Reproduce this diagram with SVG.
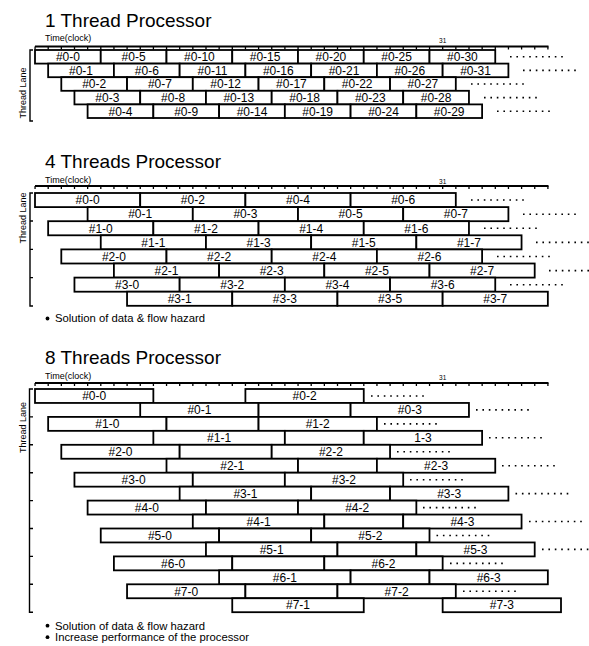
<svg xmlns="http://www.w3.org/2000/svg" width="589" height="646" viewBox="0 0 589 646">
<style>
.b{fill:#fff;stroke:#000;stroke-width:1.8}
.l{font-family:"Liberation Sans",Arial,sans-serif;font-size:12px;text-anchor:middle;fill:#000}
.t{font-family:"Liberation Sans",Arial,sans-serif;font-size:19px;fill:#000}
.s{font-family:"Liberation Sans",Arial,sans-serif;font-size:9px;fill:#000}
.n{font-family:"Liberation Sans",Arial,sans-serif;font-size:6.5px;fill:#000;text-anchor:middle}
.bl{font-family:"Liberation Sans",Arial,sans-serif;font-size:11.3px;fill:#000}
.v{font-family:"Liberation Sans",Arial,sans-serif;font-size:9px;fill:#000;text-anchor:middle}
.d{stroke:#000;stroke-width:1.6;stroke-dasharray:1.6 4.8;fill:none}
.ax{stroke:#000;stroke-width:1.8;fill:none}
.tk{stroke:#000;stroke-width:3;stroke-dasharray:1.3 11.85;fill:none}
.br{stroke:#000;stroke-width:1.4;fill:none}
</style>
<rect width="589" height="646" fill="#fff"/>

<!-- ===== Section 1: 1 Thread Processor ===== -->
<g id="sec1-frame">
<text class="t" x="45" y="26.7">1 Thread Processor</text>
<text class="s" x="45" y="40.5">Time(clock)</text>
<text class="n" x="442.7" y="42.5">31</text>
<line class="ax" x1="35" y1="46.5" x2="548.5" y2="46.5"/>
<line class="tk" x1="34.4" y1="48" x2="549" y2="48"/>
<path class="br" d="M33 50H30V121H33"/>
<text class="v" transform="translate(25.5,93) rotate(-90)">Thread Lane</text>
</g>
<g id="sec1-nodes">
<g id="n1-0-0"><rect class="b" x="35" y="50" width="65.75" height="13.6"/><text class="l" x="67.9" y="61.2">#0-0</text></g>
<g id="n1-0-5"><rect class="b" x="100.75" y="50" width="65.75" height="13.6"/><text class="l" x="133.6" y="61.2">#0-5</text></g>
<g id="n1-0-10"><rect class="b" x="166.5" y="50" width="65.75" height="13.6"/><text class="l" x="199.4" y="61.2">#0-10</text></g>
<g id="n1-0-15"><rect class="b" x="232.25" y="50" width="65.75" height="13.6"/><text class="l" x="265.1" y="61.2">#0-15</text></g>
<g id="n1-0-20"><rect class="b" x="298" y="50" width="65.75" height="13.6"/><text class="l" x="330.9" y="61.2">#0-20</text></g>
<g id="n1-0-25"><rect class="b" x="363.75" y="50" width="65.75" height="13.6"/><text class="l" x="396.6" y="61.2">#0-25</text></g>
<g id="n1-0-30"><rect class="b" x="429.5" y="50" width="65.75" height="13.6"/><text class="l" x="462.4" y="61.2">#0-30</text></g>

<g id="n1-0-1"><rect class="b" x="48.15" y="63.6" width="65.75" height="13.6"/><text class="l" x="81" y="74.8">#0-1</text></g>
<g id="n1-0-6"><rect class="b" x="113.9" y="63.6" width="65.75" height="13.6"/><text class="l" x="146.8" y="74.8">#0-6</text></g>
<g id="n1-0-11"><rect class="b" x="179.65" y="63.6" width="65.75" height="13.6"/><text class="l" x="212.5" y="74.8">#0-11</text></g>
<g id="n1-0-16"><rect class="b" x="245.4" y="63.6" width="65.75" height="13.6"/><text class="l" x="278.3" y="74.8">#0-16</text></g>
<g id="n1-0-21"><rect class="b" x="311.15" y="63.6" width="65.75" height="13.6"/><text class="l" x="344" y="74.8">#0-21</text></g>
<g id="n1-0-26"><rect class="b" x="376.9" y="63.6" width="65.75" height="13.6"/><text class="l" x="409.8" y="74.8">#0-26</text></g>
<g id="n1-0-31"><rect class="b" x="442.65" y="63.6" width="65.75" height="13.6"/><text class="l" x="475.5" y="74.8">#0-31</text></g>

<g id="n1-0-2"><rect class="b" x="61.3" y="77.2" width="65.75" height="13.6"/><text class="l" x="94.2" y="88.4">#0-2</text></g>
<g id="n1-0-7"><rect class="b" x="127.05" y="77.2" width="65.75" height="13.6"/><text class="l" x="159.9" y="88.4">#0-7</text></g>
<g id="n1-0-12"><rect class="b" x="192.8" y="77.2" width="65.75" height="13.6"/><text class="l" x="225.7" y="88.4">#0-12</text></g>
<g id="n1-0-17"><rect class="b" x="258.55" y="77.2" width="65.75" height="13.6"/><text class="l" x="291.4" y="88.4">#0-17</text></g>
<g id="n1-0-22"><rect class="b" x="324.3" y="77.2" width="65.75" height="13.6"/><text class="l" x="357.2" y="88.4">#0-22</text></g>
<g id="n1-0-27"><rect class="b" x="390.05" y="77.2" width="65.75" height="13.6"/><text class="l" x="422.9" y="88.4">#0-27</text></g>

<g id="n1-0-3"><rect class="b" x="74.45" y="90.8" width="65.75" height="13.6"/><text class="l" x="107.3" y="102">#0-3</text></g>
<g id="n1-0-8"><rect class="b" x="140.2" y="90.8" width="65.75" height="13.6"/><text class="l" x="173.1" y="102">#0-8</text></g>
<g id="n1-0-13"><rect class="b" x="205.95" y="90.8" width="65.75" height="13.6"/><text class="l" x="238.8" y="102">#0-13</text></g>
<g id="n1-0-18"><rect class="b" x="271.7" y="90.8" width="65.75" height="13.6"/><text class="l" x="304.6" y="102">#0-18</text></g>
<g id="n1-0-23"><rect class="b" x="337.45" y="90.8" width="65.75" height="13.6"/><text class="l" x="370.3" y="102">#0-23</text></g>
<g id="n1-0-28"><rect class="b" x="403.2" y="90.8" width="65.75" height="13.6"/><text class="l" x="436.1" y="102">#0-28</text></g>

<g id="n1-0-4"><rect class="b" x="87.6" y="104.4" width="65.75" height="13.6"/><text class="l" x="120.5" y="115.6">#0-4</text></g>
<g id="n1-0-9"><rect class="b" x="153.35" y="104.4" width="65.75" height="13.6"/><text class="l" x="186.2" y="115.6">#0-9</text></g>
<g id="n1-0-14"><rect class="b" x="219.1" y="104.4" width="65.75" height="13.6"/><text class="l" x="252" y="115.6">#0-14</text></g>
<g id="n1-0-19"><rect class="b" x="284.85" y="104.4" width="65.75" height="13.6"/><text class="l" x="317.7" y="115.6">#0-19</text></g>
<g id="n1-0-24"><rect class="b" x="350.6" y="104.4" width="65.75" height="13.6"/><text class="l" x="383.5" y="115.6">#0-24</text></g>
<g id="n1-0-29"><rect class="b" x="416.35" y="104.4" width="65.75" height="13.6"/><text class="l" x="449.2" y="115.6">#0-29</text></g>
</g>
<g id="sec1-dots">
<line class="d" x1="510" y1="56.8" x2="562.8" y2="56.8"/>
<line class="d" x1="523" y1="70.4" x2="575.8" y2="70.4"/>
<line class="d" x1="471" y1="84" x2="523.8" y2="84"/>
<line class="d" x1="484" y1="97.6" x2="536.8" y2="97.6"/>
<line class="d" x1="497" y1="111.2" x2="549.8" y2="111.2"/>
</g>

<!-- ===== Section 2: 4 Threads Processor ===== -->
<g id="sec2-frame">
<text class="t" x="45" y="168.3">4 Threads Processor</text>
<text class="s" x="45" y="182.5">Time(clock)</text>
<text class="n" x="442.7" y="183.5">31</text>
<line class="ax" x1="35" y1="186" x2="548.5" y2="186"/>
<line class="tk" x1="34.4" y1="187.5" x2="549" y2="187.5"/>
<path class="br" d="M33 193H30V306H33M30 221H33M30 249.4H33M30 277.6H33"/>
<text class="v" transform="translate(25.5,218) rotate(-90)">Thread Lane</text>
</g>
<g id="sec2-nodes">
<g id="n4-0-0"><rect class="b" x="35" y="193" width="105.2" height="14.1"/><text class="l" x="87.6" y="204.3">#0-0</text></g>
<g id="n4-0-2"><rect class="b" x="140.2" y="193" width="105.2" height="14.1"/><text class="l" x="192.8" y="204.3">#0-2</text></g>
<g id="n4-0-4"><rect class="b" x="245.4" y="193" width="105.2" height="14.1"/><text class="l" x="298" y="204.3">#0-4</text></g>
<g id="n4-0-6"><rect class="b" x="350.6" y="193" width="105.2" height="14.1"/><text class="l" x="403.2" y="204.3">#0-6</text></g>

<g id="n4-0-1"><rect class="b" x="87.6" y="207.1" width="105.2" height="14.1"/><text class="l" x="140.2" y="218.4">#0-1</text></g>
<g id="n4-0-3"><rect class="b" x="192.8" y="207.1" width="105.2" height="14.1"/><text class="l" x="245.4" y="218.4">#0-3</text></g>
<g id="n4-0-5"><rect class="b" x="298" y="207.1" width="105.2" height="14.1"/><text class="l" x="350.6" y="218.4">#0-5</text></g>
<g id="n4-0-7"><rect class="b" x="403.2" y="207.1" width="105.2" height="14.1"/><text class="l" x="455.8" y="218.4">#0-7</text></g>

<g id="n4-1-0"><rect class="b" x="48.15" y="221.2" width="105.2" height="14.1"/><text class="l" x="100.75" y="232.5">#1-0</text></g>
<g id="n4-1-2"><rect class="b" x="153.35" y="221.2" width="105.2" height="14.1"/><text class="l" x="205.95" y="232.5">#1-2</text></g>
<g id="n4-1-4"><rect class="b" x="258.55" y="221.2" width="105.2" height="14.1"/><text class="l" x="311.15" y="232.5">#1-4</text></g>
<g id="n4-1-6"><rect class="b" x="363.75" y="221.2" width="105.2" height="14.1"/><text class="l" x="416.35" y="232.5">#1-6</text></g>

<g id="n4-1-1"><rect class="b" x="100.75" y="235.3" width="105.2" height="14.1"/><text class="l" x="153.35" y="246.6">#1-1</text></g>
<g id="n4-1-3"><rect class="b" x="205.95" y="235.3" width="105.2" height="14.1"/><text class="l" x="258.55" y="246.6">#1-3</text></g>
<g id="n4-1-5"><rect class="b" x="311.15" y="235.3" width="105.2" height="14.1"/><text class="l" x="363.75" y="246.6">#1-5</text></g>
<g id="n4-1-7"><rect class="b" x="416.35" y="235.3" width="105.2" height="14.1"/><text class="l" x="468.95" y="246.6">#1-7</text></g>

<g id="n4-2-0"><rect class="b" x="61.3" y="249.4" width="105.2" height="14.1"/><text class="l" x="113.9" y="260.7">#2-0</text></g>
<g id="n4-2-2"><rect class="b" x="166.5" y="249.4" width="105.2" height="14.1"/><text class="l" x="219.1" y="260.7">#2-2</text></g>
<g id="n4-2-4"><rect class="b" x="271.7" y="249.4" width="105.2" height="14.1"/><text class="l" x="324.3" y="260.7">#2-4</text></g>
<g id="n4-2-6"><rect class="b" x="376.9" y="249.4" width="105.2" height="14.1"/><text class="l" x="429.5" y="260.7">#2-6</text></g>

<g id="n4-2-1"><rect class="b" x="113.9" y="263.5" width="105.2" height="14.1"/><text class="l" x="166.5" y="274.8">#2-1</text></g>
<g id="n4-2-3"><rect class="b" x="219.1" y="263.5" width="105.2" height="14.1"/><text class="l" x="271.7" y="274.8">#2-3</text></g>
<g id="n4-2-5"><rect class="b" x="324.3" y="263.5" width="105.2" height="14.1"/><text class="l" x="376.9" y="274.8">#2-5</text></g>
<g id="n4-2-7"><rect class="b" x="429.5" y="263.5" width="105.2" height="14.1"/><text class="l" x="482.1" y="274.8">#2-7</text></g>

<g id="n4-3-0"><rect class="b" x="74.45" y="277.6" width="105.2" height="14.1"/><text class="l" x="127.05" y="288.9">#3-0</text></g>
<g id="n4-3-2"><rect class="b" x="179.65" y="277.6" width="105.2" height="14.1"/><text class="l" x="232.25" y="288.9">#3-2</text></g>
<g id="n4-3-4"><rect class="b" x="284.85" y="277.6" width="105.2" height="14.1"/><text class="l" x="337.45" y="288.9">#3-4</text></g>
<g id="n4-3-6"><rect class="b" x="390.05" y="277.6" width="105.2" height="14.1"/><text class="l" x="442.65" y="288.9">#3-6</text></g>

<g id="n4-3-1"><rect class="b" x="127.05" y="291.7" width="105.2" height="14.1"/><text class="l" x="179.65" y="303">#3-1</text></g>
<g id="n4-3-3"><rect class="b" x="232.25" y="291.7" width="105.2" height="14.1"/><text class="l" x="284.85" y="303">#3-3</text></g>
<g id="n4-3-5"><rect class="b" x="337.45" y="291.7" width="105.2" height="14.1"/><text class="l" x="390.05" y="303">#3-5</text></g>
<g id="n4-3-7"><rect class="b" x="442.65" y="291.7" width="105.2" height="14.1"/><text class="l" x="495.25" y="303">#3-7</text></g>
</g>
<g id="sec2-dots">
<line class="d" x1="471" y1="200" x2="523.8" y2="200"/>
<line class="d" x1="523" y1="214.2" x2="575.8" y2="214.2"/>
<line class="d" x1="484" y1="228.3" x2="536.8" y2="228.3"/>
<line class="d" x1="536" y1="242.4" x2="588.8" y2="242.4"/>
<line class="d" x1="497" y1="256.5" x2="549.8" y2="256.5"/>
<line class="d" x1="549" y1="270.6" x2="601.8" y2="270.6"/>
<line class="d" x1="510" y1="284.7" x2="562.8" y2="284.7"/>
</g>
<g id="sec2-note">
<circle cx="47.5" cy="318.5" r="1.9" fill="#000"/>
<text class="bl" x="55" y="322.3">Solution of data &amp; flow hazard</text>
</g>

<!-- ===== Section 3: 8 Threads Processor ===== -->
<g id="sec3-frame">
<text class="t" x="45" y="364">8 Threads Processor</text>
<text class="s" x="45" y="378.5">Time(clock)</text>
<text class="n" x="442.7" y="380">31</text>
<line class="ax" x1="35" y1="383" x2="548.5" y2="383"/>
<line class="tk" x1="34.4" y1="384.5" x2="549" y2="384.5"/>
<path class="br" d="M33 389H29.5V612.2H33M29.5 416.9H33M29.5 444.8H33M29.5 472.7H33M29.5 500.6H33M29.5 528.5H33M29.5 556.4H33M29.5 584.3H33"/>
<text class="v" transform="translate(25.5,427.5) rotate(-90)">Thread Lane</text>
</g>
<g id="sec3-nodes">
<!-- row 0 -->
<g id="n8-0-0"><rect class="b" x="35" y="389" width="118.35" height="13.95"/><text class="l" x="94.2" y="400.2">#0-0</text></g>
<g id="n8-0-2"><rect class="b" x="245.4" y="389" width="118.35" height="13.95"/><text class="l" x="304.6" y="400.2">#0-2</text></g>
<!-- row 1 -->
<g id="n8-0-1"><rect class="b" x="140.2" y="402.95" width="118.35" height="13.95"/><text class="l" x="199.4" y="414.15">#0-1</text></g>
<g id="n8-e1"><rect class="b" x="258.55" y="402.95" width="92.05" height="13.95"/></g>
<g id="n8-0-3"><rect class="b" x="350.6" y="402.95" width="118.35" height="13.95"/><text class="l" x="409.8" y="414.15">#0-3</text></g>
<!-- row 2 -->
<g id="n8-1-0"><rect class="b" x="48.15" y="416.9" width="118.35" height="13.95"/><text class="l" x="107.3" y="428.1">#1-0</text></g>
<g id="n8-e2"><rect class="b" x="166.5" y="416.9" width="92.05" height="13.95"/></g>
<g id="n8-1-2"><rect class="b" x="258.55" y="416.9" width="118.35" height="13.95"/><text class="l" x="317.7" y="428.1">#1-2</text></g>
<!-- row 3 -->
<g id="n8-1-1"><rect class="b" x="153.35" y="430.85" width="131.5" height="13.95"/><text class="l" x="219.1" y="442.05">#1-1</text></g>
<g id="n8-e3"><rect class="b" x="284.85" y="430.85" width="78.9" height="13.95"/></g>
<g id="n8-1-3"><rect class="b" x="363.75" y="430.85" width="118.35" height="13.95"/><text class="l" x="422.9" y="442.05">1-3</text></g>
<!-- row 4 -->
<g id="n8-2-0"><rect class="b" x="61.3" y="444.8" width="118.35" height="13.95"/><text class="l" x="120.5" y="456">#2-0</text></g>
<g id="n8-e4"><rect class="b" x="179.65" y="444.8" width="92.05" height="13.95"/></g>
<g id="n8-2-2"><rect class="b" x="271.7" y="444.8" width="118.35" height="13.95"/><text class="l" x="330.9" y="456">#2-2</text></g>
<!-- row 5 -->
<g id="n8-2-1"><rect class="b" x="166.5" y="458.75" width="131.5" height="13.95"/><text class="l" x="232.25" y="469.95">#2-1</text></g>
<g id="n8-e5"><rect class="b" x="298" y="458.75" width="78.9" height="13.95"/></g>
<g id="n8-2-3"><rect class="b" x="376.9" y="458.75" width="118.35" height="13.95"/><text class="l" x="436.1" y="469.95">#2-3</text></g>
<!-- row 6 -->
<g id="n8-3-0"><rect class="b" x="74.45" y="472.7" width="118.35" height="13.95"/><text class="l" x="133.6" y="483.9">#3-0</text></g>
<g id="n8-e6"><rect class="b" x="192.8" y="472.7" width="92.05" height="13.95"/></g>
<g id="n8-3-2"><rect class="b" x="284.85" y="472.7" width="118.35" height="13.95"/><text class="l" x="344" y="483.9">#3-2</text></g>
<!-- row 7 -->
<g id="n8-3-1"><rect class="b" x="179.65" y="486.65" width="131.5" height="13.95"/><text class="l" x="245.4" y="497.85">#3-1</text></g>
<g id="n8-e7"><rect class="b" x="311.15" y="486.65" width="78.9" height="13.95"/></g>
<g id="n8-3-3"><rect class="b" x="390.05" y="486.65" width="118.35" height="13.95"/><text class="l" x="449.2" y="497.85">#3-3</text></g>
<!-- row 8 -->
<g id="n8-4-0"><rect class="b" x="87.6" y="500.6" width="118.35" height="13.95"/><text class="l" x="146.8" y="511.8">#4-0</text></g>
<g id="n8-e8"><rect class="b" x="205.95" y="500.6" width="92.05" height="13.95"/></g>
<g id="n8-4-2"><rect class="b" x="298" y="500.6" width="118.35" height="13.95"/><text class="l" x="357.2" y="511.8">#4-2</text></g>
<!-- row 9 -->
<g id="n8-4-1"><rect class="b" x="192.8" y="514.55" width="131.5" height="13.95"/><text class="l" x="258.55" y="525.75">#4-1</text></g>
<g id="n8-e9"><rect class="b" x="324.3" y="514.55" width="78.9" height="13.95"/></g>
<g id="n8-4-3"><rect class="b" x="403.2" y="514.55" width="118.35" height="13.95"/><text class="l" x="462.4" y="525.75">#4-3</text></g>
<!-- row 10 -->
<g id="n8-5-0"><rect class="b" x="100.75" y="528.5" width="118.35" height="13.95"/><text class="l" x="159.9" y="539.7">#5-0</text></g>
<g id="n8-e10"><rect class="b" x="219.1" y="528.5" width="92.05" height="13.95"/></g>
<g id="n8-5-2"><rect class="b" x="311.15" y="528.5" width="118.35" height="13.95"/><text class="l" x="370.3" y="539.7">#5-2</text></g>
<!-- row 11 -->
<g id="n8-5-1"><rect class="b" x="205.95" y="542.45" width="131.5" height="13.95"/><text class="l" x="271.7" y="553.65">#5-1</text></g>
<g id="n8-e11"><rect class="b" x="337.45" y="542.45" width="78.9" height="13.95"/></g>
<g id="n8-5-3"><rect class="b" x="416.35" y="542.45" width="118.35" height="13.95"/><text class="l" x="475.5" y="553.65">#5-3</text></g>
<!-- row 12 -->
<g id="n8-6-0"><rect class="b" x="113.9" y="556.4" width="118.35" height="13.95"/><text class="l" x="173.1" y="567.6">#6-0</text></g>
<g id="n8-e12"><rect class="b" x="232.25" y="556.4" width="92.05" height="13.95"/></g>
<g id="n8-6-2"><rect class="b" x="324.3" y="556.4" width="118.35" height="13.95"/><text class="l" x="383.5" y="567.6">#6-2</text></g>
<!-- row 13 -->
<g id="n8-6-1"><rect class="b" x="219.1" y="570.35" width="131.5" height="13.95"/><text class="l" x="284.85" y="581.55">#6-1</text></g>
<g id="n8-e13"><rect class="b" x="350.6" y="570.35" width="78.9" height="13.95"/></g>
<g id="n8-6-3"><rect class="b" x="429.5" y="570.35" width="118.35" height="13.95"/><text class="l" x="488.7" y="581.55">#6-3</text></g>
<!-- row 14 -->
<g id="n8-7-0"><rect class="b" x="127.05" y="584.3" width="118.35" height="13.95"/><text class="l" x="186.2" y="595.5">#7-0</text></g>
<g id="n8-e14"><rect class="b" x="245.4" y="584.3" width="92.05" height="13.95"/></g>
<g id="n8-7-2"><rect class="b" x="337.45" y="584.3" width="118.35" height="13.95"/><text class="l" x="396.6" y="595.5">#7-2</text></g>
<!-- row 15 -->
<g id="n8-7-1"><rect class="b" x="232.25" y="598.25" width="131.5" height="13.95"/><text class="l" x="298" y="609.45">#7-1</text></g>
<g id="n8-7-3"><rect class="b" x="442.65" y="598.25" width="118.35" height="13.95"/><text class="l" x="501.8" y="609.45">#7-3</text></g>
</g>
<g id="sec3-dots">
<line class="d" x1="371" y1="396" x2="423.8" y2="396"/>
<line class="d" x1="476" y1="409.9" x2="528.8" y2="409.9"/>
<line class="d" x1="384" y1="423.9" x2="436.8" y2="423.9"/>
<line class="d" x1="489" y1="437.8" x2="541.8" y2="437.8"/>
<line class="d" x1="397" y1="451.8" x2="449.8" y2="451.8"/>
<line class="d" x1="502" y1="465.7" x2="554.8" y2="465.7"/>
<line class="d" x1="410" y1="479.7" x2="462.8" y2="479.7"/>
<line class="d" x1="515.5" y1="493.6" x2="568.3" y2="493.6"/>
<line class="d" x1="423" y1="507.6" x2="475.8" y2="507.6"/>
<line class="d" x1="529" y1="521.5" x2="581.8" y2="521.5"/>
<line class="d" x1="436.5" y1="535.5" x2="489.3" y2="535.5"/>
<line class="d" x1="542" y1="549.4" x2="594.8" y2="549.4"/>
<line class="d" x1="450" y1="563.4" x2="502.8" y2="563.4"/>
<line class="d" x1="463" y1="591.3" x2="515.8" y2="591.3"/>
</g>
<g id="sec3-note">
<circle cx="47.5" cy="625.7" r="1.9" fill="#000"/>
<text class="bl" x="55" y="629.5">Solution of data &amp; flow hazard</text>
<circle cx="47.5" cy="637.2" r="1.9" fill="#000"/>
<text class="bl" x="55" y="641">Increase performance of the processor</text>
</g>
</svg>
